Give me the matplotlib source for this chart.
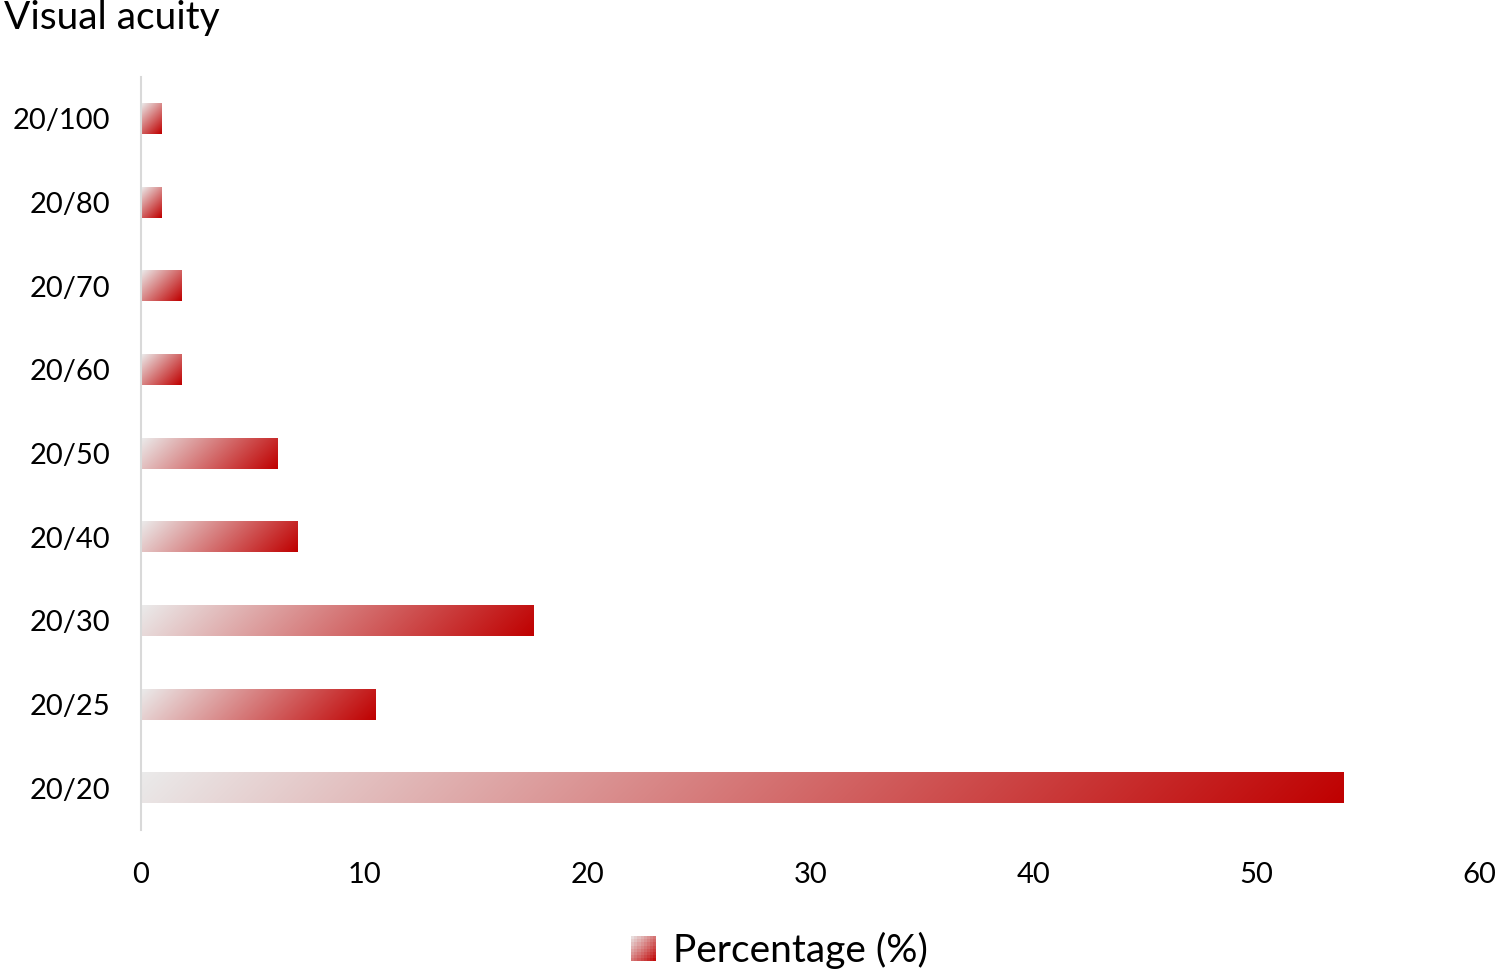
import numpy as np
import matplotlib
matplotlib.use("Agg")
import matplotlib.pyplot as plt
from matplotlib.patches import Rectangle, Patch
from matplotlib.legend_handler import HandlerBase

plt.rcParams["font.family"] = ["Lato", "DejaVu Sans"]

categories = ["20/100", "20/80", "20/70", "20/60", "20/50", "20/40", "20/30", "20/25", "20/20"]
percentages = [0.9, 0.9, 1.8, 1.8, 6.1, 7.0, 17.6, 10.5, 53.9]
xticks = [0, 10, 20, 30, 40, 50, 60]

light = np.array([0.92, 0.92, 0.92])
dark = np.array([0.75, 0.0, 0.0])


def grad_colors(t):
    t = np.clip(t, 0, 1)[..., None]
    return light * (1 - t) + dark * t


fig = plt.figure(figsize=(14.99, 9.76), dpi=100)
ax = fig.add_axes([0.094, 0.1496, 0.893, 0.7714])

n = len(categories)
ypos = np.arange(n)
ylim = (n - 0.5, -0.5)
xlim = (0, 60)
bar_h = 0.36

# pixel scale so the gradient runs at 45 degrees on screen
ax_w = 0.893 * 1499
ax_h = 0.7714 * 976
px_x = ax_w / (xlim[1] - xlim[0])
px_y = ax_h / n

for y, v in zip(ypos, percentages):
    wpx = v * px_x
    hpx = bar_h * px_y
    nx = max(int(wpx), 2)
    ny = max(int(hpx), 2)
    xx, yy = np.meshgrid(np.linspace(0, wpx, nx), np.linspace(0, hpx, ny))
    t = (xx + yy) / (wpx + hpx)
    img = grad_colors(t)
    ax.imshow(img, extent=(0, v, y + bar_h / 2, y - bar_h / 2),
              aspect="auto", interpolation="bilinear", origin="upper", zorder=2)

ax.set_xlim(*xlim)
ax.set_ylim(*ylim)
ax.set_yticks(ypos)
ax.set_yticklabels(categories)
ax.set_xticks(xticks)
ax.tick_params(axis="both", length=0, labelsize=21, colors="black")
ax.tick_params(axis="x", pad=23)
ax.tick_params(axis="y", pad=22)
for s in ["top", "right", "bottom"]:
    ax.spines[s].set_visible(False)
ax.spines["left"].set_color("#d9d9d9")
ax.spines["left"].set_linewidth(1.5)

fig.text(0.003, 0.970, "Visual acuity", fontsize=28, ha="left", va="baseline")


class GradientHandler(HandlerBase):
    def create_artists(self, legend, orig_handle, xdescent, ydescent,
                       width, height, fontsize, trans):
        size = height * 0.9
        x0 = -xdescent + width - size
        y0 = -ydescent + (height - size) / 2
        k = 8
        artists = []
        for i in range(k):
            for j in range(k):
                t = ((i + 0.5) + (k - j - 0.5)) / (2 * k)
                r = Rectangle((x0 + i * size / k, y0 + j * size / k), size / k, size / k,
                              facecolor=grad_colors(np.array(t)), edgecolor="none",
                              transform=trans)
                artists.append(r)
        return artists


handle = Patch(label="Percentage (%)")
fig.legend(handles=[handle], handler_map={Patch: GradientHandler()},
           loc="center", bbox_to_anchor=(0.518, 0.026), frameon=False,
           fontsize=28, handlelength=0.8, handletextpad=0.45)

fig.savefig("out.png", dpi=100)
